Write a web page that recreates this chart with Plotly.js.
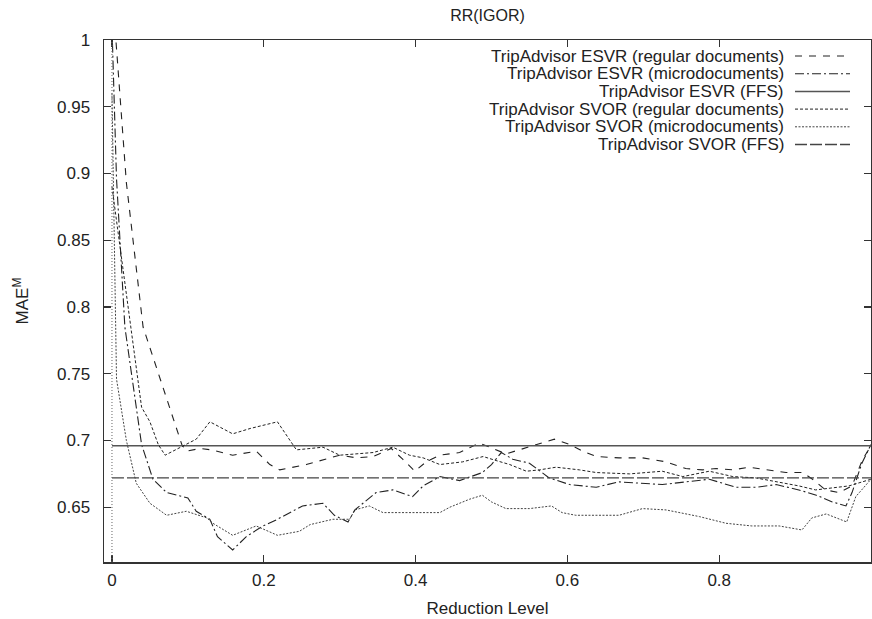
<!DOCTYPE html>
<html>
<head>
<meta charset="utf-8">
<script src="https://cdn.plot.ly/plotly-3.0.1.min.js"></script>
<style>html,body{margin:0;padding:0;background:#fff;}#chart{width:872px;height:619px;}</style>
</head>
<body>
<div id="chart"></div>
<script>
// ---- data ----
const seriesNames = [
  "TripAdvisor ESVR (regular documents)",
  "TripAdvisor ESVR (microdocuments)",
  "TripAdvisor ESVR (FFS)",
  "TripAdvisor SVOR (regular documents)",
  "TripAdvisor SVOR (microdocuments)",
  "TripAdvisor SVOR (FFS)"
];

const esvrRegX = [0, 0.019, 0.041, 0.092, 0.098, 0.116, 0.131, 0.159, 0.19, 0.208, 0.221, 0.256, 0.3, 0.322, 0.344, 0.368, 0.383, 0.399, 0.414, 0.432, 0.458, 0.484, 0.502, 0.519, 0.554, 0.572, 0.583, 0.603, 0.62, 0.638, 0.668, 0.699, 0.73, 0.756, 0.778, 0.796, 0.818, 0.839, 0.861, 0.888, 0.91, 0.923, 0.94, 0.958, 0.975, 0.989, 1.0];
const esvrRegY = [1.04, 0.893, 0.785, 0.697, 0.692, 0.694, 0.693, 0.689, 0.692, 0.682, 0.678, 0.682, 0.689, 0.687, 0.688, 0.694, 0.686, 0.677, 0.684, 0.689, 0.691, 0.698, 0.694, 0.690, 0.696, 0.699, 0.701, 0.697, 0.692, 0.688, 0.687, 0.687, 0.684, 0.679, 0.678, 0.679, 0.678, 0.680, 0.678, 0.676, 0.676, 0.671, 0.663, 0.661, 0.666, 0.686, 0.696];

const esvrMicroX = [0, 0.006, 0.017, 0.039, 0.054, 0.072, 0.1, 0.111, 0.129, 0.139, 0.159, 0.177, 0.199, 0.218, 0.251, 0.278, 0.293, 0.311, 0.32, 0.348, 0.37, 0.396, 0.41, 0.432, 0.458, 0.488, 0.5, 0.513, 0.528, 0.55, 0.576, 0.603, 0.638, 0.668, 0.725, 0.757, 0.787, 0.822, 0.849, 0.875, 0.905, 0.928, 0.949, 0.967, 0.975, 0.988, 1.0];
const esvrMicroY = [1.01, 0.896, 0.785, 0.697, 0.671, 0.661, 0.657, 0.647, 0.641, 0.628, 0.618, 0.628, 0.636, 0.641, 0.651, 0.653, 0.644, 0.639, 0.648, 0.661, 0.663, 0.658, 0.666, 0.673, 0.670, 0.676, 0.682, 0.691, 0.686, 0.683, 0.672, 0.667, 0.665, 0.669, 0.667, 0.669, 0.671, 0.665, 0.665, 0.667, 0.663, 0.659, 0.654, 0.651, 0.661, 0.683, 0.697];

const esvrFfsX = [0, 1];
const esvrFfsY = [0.696, 0.696];

const svorRegX = [0, 0.025, 0.039, 0.05, 0.061, 0.07, 0.094, 0.111, 0.129, 0.159, 0.182, 0.218, 0.243, 0.278, 0.3, 0.344, 0.37, 0.392, 0.41, 0.432, 0.462, 0.489, 0.506, 0.524, 0.546, 0.563, 0.585, 0.616, 0.638, 0.682, 0.725, 0.752, 0.787, 0.818, 0.848, 0.879, 0.905, 0.927, 0.971, 1.0];
const svorRegY = [0.89, 0.785, 0.725, 0.714, 0.697, 0.689, 0.696, 0.701, 0.714, 0.705, 0.709, 0.714, 0.693, 0.695, 0.689, 0.691, 0.695, 0.689, 0.687, 0.682, 0.684, 0.688, 0.685, 0.682, 0.677, 0.678, 0.680, 0.678, 0.676, 0.675, 0.677, 0.673, 0.677, 0.673, 0.672, 0.669, 0.666, 0.663, 0.666, 0.671];

const svorMicroX = [0, 0.006, 0.019, 0.032, 0.05, 0.072, 0.098, 0.125, 0.133, 0.159, 0.19, 0.218, 0.247, 0.261, 0.291, 0.313, 0.32, 0.339, 0.357, 0.432, 0.445, 0.471, 0.488, 0.5, 0.519, 0.55, 0.579, 0.593, 0.611, 0.668, 0.699, 0.73, 0.774, 0.809, 0.843, 0.879, 0.909, 0.922, 0.941, 0.954, 0.968, 0.98, 1.0];
const svorMicroY = [0.96, 0.746, 0.70, 0.668, 0.653, 0.644, 0.647, 0.642, 0.638, 0.629, 0.636, 0.629, 0.632, 0.637, 0.641, 0.641, 0.648, 0.651, 0.646, 0.646, 0.650, 0.656, 0.659, 0.654, 0.649, 0.649, 0.651, 0.646, 0.644, 0.644, 0.649, 0.648, 0.643, 0.638, 0.636, 0.636, 0.633, 0.642, 0.645, 0.642, 0.639, 0.658, 0.671];

const svorFfsX = [0, 1];
const svorFfsY = [0.672, 0.672];

const xTickVals = [0, 0.2, 0.4, 0.6, 0.8, 1];
const xTickText = ["0", "0.2", "0.4", "0.6", "0.8", "1"];
const yTickVals = [0.65, 0.7, 0.75, 0.8, 0.85, 0.9, 0.95, 1];
const yTickText = ["0.65", "0.7", "0.75", "0.8", "0.85", "0.9", "0.95", "1"];

// ---- styles ----
const ink = "#222";
const styles = [
  {dash: "7px,7px", width: 1.1, color: ink},
  {dash: "9px,3px,2px,3px", width: 1.1, color: ink},
  {dash: "solid", width: 1.5, color: "#555"},
  {dash: "3px,2px", width: 1.0, color: ink},
  {dash: "2px,1.5px", width: 1.0, color: "#444"},
  {dash: "12px,3px", width: 1.3, color: "#444"}
];
const xs = [esvrRegX, esvrMicroX, esvrFfsX, svorRegX, svorMicroX, svorFfsX];
const ys = [esvrRegY, esvrMicroY, esvrFfsY, svorRegY, svorMicroY, svorFfsY];

const traces = seriesNames.map((n, i) => ({
  x: xs[i], y: ys[i], name: n, type: "scatter", mode: "lines",
  line: {color: styles[i].color, width: styles[i].width, dash: styles[i].dash},
  showlegend: false, cliponaxis: true
}));

const fontFam = "Liberation Sans, Arial, Helvetica, sans-serif";
const W = 872, H = 619, mL = 104, mR = 1, mT = 40, mB = 57;
const pw = W - mL - mR, ph = H - mT - mB;

const annotations = [];
const shapes = [
  // gnuplot style zero axis at x = 0
  {type: "line", xref: "x", yref: "paper", x0: 0, x1: 0, y0: 0, y1: 1,
   line: {color: "#666", width: 1, dash: "1px,2px"}}
];
seriesNames.forEach((n, i) => {
  const py = 56 + i * 17.7;
  const yp = 1 - (py - mT) / ph;
  annotations.push({
    xref: "paper", yref: "paper", x: (786 - mL) / pw, y: yp,
    xanchor: "right", yanchor: "middle", showarrow: false, text: n,
    font: {family: fontFam, size: 17, color: ink}
  });
  shapes.push({
    type: "line", xref: "paper", yref: "paper",
    x0: (795 - mL) / pw, x1: (850 - mL) / pw, y0: yp, y1: yp,
    line: {color: styles[i].color, width: styles[i].width, dash: styles[i].dash}
  });
});

const axisCommon = {
  showgrid: false, zeroline: false, showline: true, linecolor: "#333", linewidth: 1.5,
  mirror: "ticks", ticks: "inside", ticklen: 7, tickwidth: 1.2, tickcolor: "#333",
  tickfont: {family: fontFam, size: 17, color: ink}
};

const layout = {
  width: W, height: H,
  margin: {l: mL, r: mR, t: mT, b: mB, pad: 0},
  paper_bgcolor: "#fff", plot_bgcolor: "#fff",
  font: {family: fontFam, size: 17, color: ink},
  title: {text: "RR(IGOR)", x: (mL + pw / 2) / W, xanchor: "center", y: 1 - 15 / H, yanchor: "middle",
          font: {family: fontFam, size: 16, color: ink}},
  xaxis: Object.assign({}, axisCommon, {
    range: [-0.0105, 1.0], tickvals: xTickVals, ticktext: xTickText, ticklabelstandoff: 2,
    title: {text: "Reduction Level", standoff: 13, font: {family: fontFam, size: 17, color: ink}}
  }),
  yaxis: Object.assign({}, axisCommon, {
    range: [0.609, 1.0], tickvals: yTickVals, ticktext: yTickText, ticklabelstandoff: 9,
    title: {text: "MAE<sup>M</sup>", standoff: 24, font: {family: fontFam, size: 17, color: ink}}
  }),
  annotations: annotations,
  shapes: shapes,
  showlegend: false
};

Plotly.newPlot("chart", traces, layout, {displayModeBar: false, staticPlot: true});
</script>
</body>
</html>
